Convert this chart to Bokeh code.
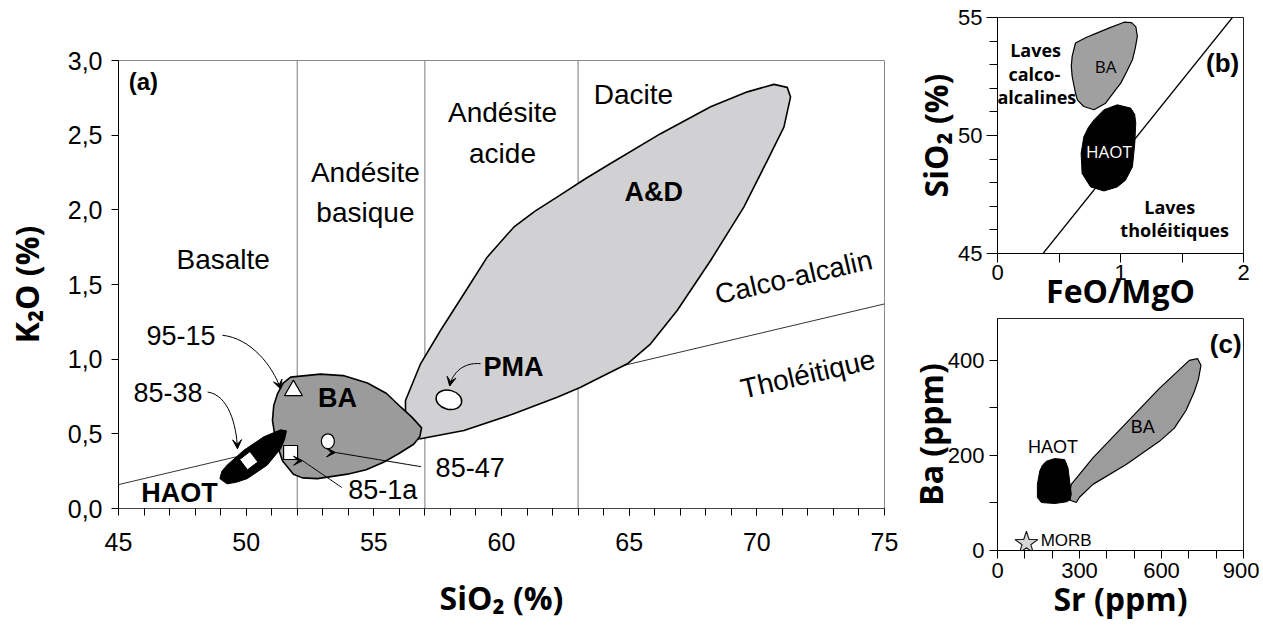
from bokeh.plotting import figure
from bokeh.layouts import row, column
from bokeh.models import Range1d, FixedTicker, CustomJSTickFormatter, Arrow, VeeHead
from bokeh.core.properties import value
from bokeh.embed import file_html
from bokeh.resources import INLINE

# ---------------- Panel (a): K2O vs SiO2 ----------------
field_bounds_sio2 = [52, 57, 63]
ca_th_sio2 = [45, 75]
ca_th_k2o = [0.16, 1.37]

ad_sio2 = [56.24, 56.83, 57.61, 58.53, 59.44, 60.48, 61.3, 62.31, 63.3, 64.27, 66.23, 68.19, 69.63,
           70.67, 71.19, 71.32, 71.06, 70.41, 69.49, 68.19, 66.88, 65.84, 64.93, 63.62, 63.10,
           62.18, 60.48, 58.53, 56.83, 56.24]
ad_k2o = [0.723, 0.969, 1.192, 1.438, 1.683, 1.884, 1.99, 2.10, 2.21, 2.31, 2.51, 2.69, 2.79,
          2.84, 2.82, 2.755, 2.554, 2.33, 2.018, 1.661, 1.326, 1.103, 0.969, 0.857, 0.812,
          0.745, 0.634, 0.522, 0.467, 0.46]

ba_sio2 = [51.74, 52.91, 53.8, 54.75, 55.5, 56.05, 56.5, 56.87, 56.8, 56.56, 56.0, 55.38,
           54.7, 53.97, 52.79, 52.2, 51.85, 51.42, 51.15, 51.03, 51.08, 51.23, 51.45]
ba_k2o = [0.88, 0.90, 0.89, 0.84, 0.77, 0.68, 0.61, 0.54, 0.48, 0.43, 0.37, 0.31,
          0.26, 0.23, 0.20, 0.205, 0.23, 0.32, 0.46, 0.59, 0.69, 0.77, 0.84]

haot_sio2 = [51.58, 51.5, 51.35, 50.82, 50.04, 49.6, 49.25, 48.97, 49.05, 49.25, 49.91, 50.69, 51.35]
haot_k2o = [0.52, 0.46, 0.40, 0.29, 0.20, 0.175, 0.165, 0.20, 0.25, 0.29, 0.39, 0.48, 0.527]

sample_names = ["95-15", "85-38", "85-1a", "85-47"]
sample_sio2 = [51.85, 50.10, 51.74, 53.20]
sample_k2o = [0.79, 0.32, 0.375, 0.45]
pma_sio2 = [57.94]
pma_k2o = [0.728]

a_x_ticks = [45, 50, 55, 60, 65, 70, 75]
a_x_minor = list(range(46, 75))
a_y_ticks = [0.0, 0.5, 1.0, 1.5, 2.0, 2.5, 3.0]

# ---------------- Panel (b): SiO2 vs FeO/MgO ----------------
b_line_feo = [0.37, 1.91]
b_line_sio2 = [45, 55]
ba_b_feo = [0.634, 0.72, 0.811, 0.92, 1.029, 1.09, 1.125, 1.137, 1.12, 1.097, 1.05, 1.002, 0.94,
            0.879, 0.784, 0.702, 0.65, 0.634, 0.607, 0.600, 0.607]
ba_b_sio2 = [53.92, 54.15, 54.35, 54.58, 54.80, 54.78, 54.60, 54.20, 53.70, 53.21, 52.70, 52.22, 51.80,
             51.37, 51.09, 51.23, 51.50, 51.80, 52.50, 52.95, 53.35]
haot_b_feo = [0.865, 0.974, 1.083, 1.115, 1.124, 1.116, 1.097, 1.04, 0.974, 0.865, 0.757, 0.688,
              0.680, 0.702, 0.74, 0.784]
haot_b_sio2 = [51.09, 51.30, 51.16, 50.90, 50.52, 49.67, 48.67, 48.10, 47.82, 47.65, 47.82, 48.39,
               49.24, 49.95, 50.35, 50.66]
b_x_ticks = [0, 1, 2]
b_x_minor = [0.5, 1.5]
b_y_ticks = [45, 50, 55]
b_y_minor = [46, 47, 48, 49, 51, 52, 53, 54]

# ---------------- Panel (c): Ba vs Sr ----------------
ba_c_sr = [270, 349, 470.7, 592.3, 701.7, 732.2, 744.3, 735, 720, 690, 647, 592.3, 470.7, 349, 300,
           288.2, 266.3, 263.9]
ba_c_ba = [139.1, 194.8, 267.8, 340.9, 400.0, 403.5, 389.6, 360, 333.9, 295, 257.4, 229.6, 180.9,
           139.1, 112, 100.9, 105.7, 121.7]
haot_c_sr = [178.8, 209.2, 245.7, 257.8, 263.9, 270.0, 265, 251.8, 209.2, 160.5, 145.9, 145.9, 154.5, 165]
haot_c_ba = [187.8, 193.4, 191.3, 173.9, 146.1, 118.3, 106, 102.3, 98.8, 100.9, 111.3, 139.1, 167.0, 180]
morb_sr = [105.8]
morb_ba = [15.3]
c_x_ticks = [0, 300, 600, 900]
c_x_minor = [100, 200, 400, 500, 700, 800]
c_y_ticks = [0, 200, 400]
c_y_minor = [100, 300]

SANS = "Liberation Sans"
TITLE = "Open Sans"


def make_fig(xr, yr, fw, fh, bl, br, bt, bb):
    p = figure(x_range=Range1d(*xr), y_range=Range1d(*yr), frame_width=fw, frame_height=fh,
               min_border_left=bl, min_border_right=br, min_border_top=bt, min_border_bottom=bb,
               output_backend="svg", toolbar_location=None)
    p.grid.visible = False
    p.outline_line_color = "#222222"
    for ax in (p.xaxis, p.yaxis):
        ax.axis_line_color = "black"
        ax.major_tick_line_color = "black"
        ax.minor_tick_line_color = "black"
        ax.major_tick_in = 0
        ax.minor_tick_in = 0
        ax.major_label_text_font = SANS
        ax.major_label_text_color = "black"
        ax.axis_label_text_font = TITLE
        ax.axis_label_text_font_style = "bold"
        ax.axis_label_text_font_size = "32px"
        ax.axis_label_text_color = "black"
    return p


def txt(p, x, y, s, size, font=SANS, bold=False, align="center", angle=0.0, color="black"):
    p.text(x=[x], y=[y], text=[s], text_font=value(font), text_font_size=value(size),
           text_font_style="bold" if bold else "normal", text_align=align,
           text_baseline="middle", angle=angle, text_color=color)


def curved_arrow(p, x0, y0, cx0, cy0, cx1, cy1, x1, y1):
    p.bezier(x0=[x0], y0=[y0], cx0=[cx0], cy0=[cy0], cx1=[cx1], cy1=[cy1], x1=[x1], y1=[y1],
             line_color="black", line_width=1)
    p.add_layout(Arrow(end=VeeHead(size=9, fill_color="black", line_color="black", line_width=1),
                       x_start=cx1, y_start=cy1, x_end=x1, y_end=y1, line_alpha=0))


# ======== Panel (a) ========
pa = make_fig((45, 75), (0, 3), 766, 448, 118, 21, 60, 112)
pa.outline_line_color = "#8a8a8a"
pa.xaxis.ticker = FixedTicker(ticks=a_x_ticks, minor_ticks=a_x_minor)
pa.yaxis.ticker = FixedTicker(ticks=a_y_ticks, minor_ticks=[])
pa.yaxis.formatter = CustomJSTickFormatter(code="return tick.toFixed(1).replace('.', ',');")
pa.xaxis.major_tick_out = 7
pa.xaxis.minor_tick_out = 7
pa.yaxis.major_tick_out = 7
for ax in (pa.xaxis, pa.yaxis):
    ax.major_label_text_font_size = "25px"
pa.xaxis.major_label_standoff = 17
pa.yaxis.major_label_standoff = 9
pa.xaxis.axis_label = "SiO₂ (%)"
pa.yaxis.axis_label = "K₂O (%)"
pa.xaxis.axis_label_standoff = 22
pa.yaxis.axis_label_standoff = 17
pa.xaxis.axis_line_color = "#444444"

pa.segment(x0=field_bounds_sio2, y0=[0] * 3, x1=field_bounds_sio2, y1=[3] * 3,
           line_color="#7a7a7a", line_width=1)
pa.line(ca_th_sio2, ca_th_k2o, line_color="#333333", line_width=1)
pa.patch(ad_sio2, ad_k2o, fill_color="#d1d1d3", line_color="black", line_width=1.6)
pa.patch(ba_sio2, ba_k2o, fill_color="#9b9b9b", line_color="black", line_width=1.6)
pa.patch(haot_sio2, haot_k2o, fill_color="black", line_color="black", line_width=1)

pa.scatter([sample_sio2[0]], [sample_k2o[0]], marker="triangle", size=18, fill_color="white",
           line_color="black", line_width=1.2)
pa.scatter([sample_sio2[1]], [sample_k2o[1]], marker="square", size=13, angle=0.65,
           fill_color="white", line_color="black", line_width=1)
pa.scatter([sample_sio2[2]], [sample_k2o[2]], marker="square", size=14, fill_color="white",
           line_color="black", line_width=1.2)
pa.ellipse(x=[sample_sio2[3]], y=[sample_k2o[3]], width=13, height=15, width_units="screen",
           height_units="screen", fill_color="white", line_color="black", line_width=1.2)
pa.ellipse(x=pma_sio2, y=pma_k2o, width=26, height=19, width_units="screen", height_units="screen",
           angle=-0.25, fill_color="white", line_color="black", line_width=1.4)

curved_arrow(pa, 49.07, 1.16, 50.17, 1.14, 51.03, 0.96, 51.35, 0.80)
curved_arrow(pa, 48.49, 0.78, 49.31, 0.76, 49.62, 0.56, 49.66, 0.40)
curved_arrow(pa, 53.75, 0.14, 53.75, 0.14, 52.21, 0.32, 52.21, 0.32)
curved_arrow(pa, 56.85, 0.28, 56.85, 0.28, 53.5, 0.375, 53.5, 0.375)
curved_arrow(pa, 59.18, 0.97, 58.51, 0.98, 58.08, 0.91, 57.97, 0.82)

txt(pa, 45.4, 2.86, "(a)", "24px", bold=True, align="left")
txt(pa, 49.1, 1.67, "Basalte", "28px")
txt(pa, 54.67, 2.25, "Andésite", "28px")
txt(pa, 54.67, 1.98, "basique", "28px")
txt(pa, 60.04, 2.65, "Andésite", "28px")
txt(pa, 60.04, 2.38, "acide", "28px")
txt(pa, 65.17, 2.77, "Dacite", "28px")
txt(pa, 65.96, 2.12, "A&D", "27px", bold=True)
txt(pa, 53.58, 0.74, "BA", "27px", bold=True)
txt(pa, 47.39, 0.105, "HAOT", "27px", bold=True)
txt(pa, 60.47, 0.95, "PMA", "27px", bold=True)
txt(pa, 48.8, 1.16, sample_names[0], "27px", align="right")
txt(pa, 48.29, 0.78, sample_names[1], "27px", align="right")
txt(pa, 54.0, 0.125, sample_names[2], "27px", align="left")
txt(pa, 57.42, 0.275, sample_names[3], "27px", align="left")
txt(pa, 71.44, 1.55, "Calco-alcalin", "28px", angle=0.225)
txt(pa, 72.0, 0.90, "Tholéitique", "28px", angle=0.225)

# ======== Panel (b) ========
pb = make_fig((0, 2), (45, 55), 246, 236, 88, 16, 17, 65)
pb.xaxis.ticker = FixedTicker(ticks=b_x_ticks, minor_ticks=b_x_minor)
pb.yaxis.ticker = FixedTicker(ticks=b_y_ticks, minor_ticks=b_y_minor)
pb.xaxis.major_tick_out = 9
pb.xaxis.minor_tick_out = 9
pb.yaxis.major_tick_out = 11
pb.yaxis.minor_tick_out = 8
for ax in (pb.xaxis, pb.yaxis):
    ax.major_label_text_font_size = "22px"
pb.xaxis.major_label_standoff = 2
pb.yaxis.major_label_standoff = 4
pb.xaxis.axis_label = "FeO/MgO"
pb.yaxis.axis_label = "SiO₂ (%)"
pb.xaxis.axis_label_standoff = -14
pb.yaxis.axis_label_standoff = -2

pb.line(b_line_feo, b_line_sio2, line_color="black", line_width=1.2)
pb.patch(ba_b_feo, ba_b_sio2, fill_color="#a0a0a0", line_color="black", line_width=1.2)
pb.patch(haot_b_feo, haot_b_sio2, fill_color="black", line_color="black", line_width=1)
txt(pb, 0.88, 52.93, "BA", "17px", font=TITLE)
txt(pb, 0.905, 49.31, "HAOT", "17px", font=TITLE, color="white")
txt(pb, 0.31, 53.64, "Laves", "18px", font=TITLE, bold=True)
txt(pb, 0.30, 52.62, "calco-", "18px", font=TITLE, bold=True)
txt(pb, 0.32, 51.64, "alcalines", "18px", font=TITLE, bold=True)
txt(pb, 1.40, 46.96, "Laves", "18px", font=TITLE, bold=True)
txt(pb, 1.44, 45.98, "tholéitiques", "18px", font=TITLE, bold=True)
txt(pb, 1.83, 53.09, "(b)", "26px", bold=True)

# ======== Panel (c) ========
pc = make_fig((0, 900), (0, 488), 246, 232, 88, 16, 0, 70)
pc.xaxis.ticker = FixedTicker(ticks=c_x_ticks, minor_ticks=c_x_minor)
pc.yaxis.ticker = FixedTicker(ticks=c_y_ticks, minor_ticks=c_y_minor)
for ax in (pc.xaxis, pc.yaxis):
    ax.major_tick_out = 8
    ax.minor_tick_out = 8
    ax.major_label_text_font_size = "22px"
pc.xaxis.major_label_standoff = 4
pc.yaxis.major_label_standoff = 5
pc.xaxis.axis_label = "Sr (ppm)"
pc.yaxis.axis_label = "Ba (ppm)"
pc.xaxis.axis_label_standoff = -4
pc.yaxis.axis_label_standoff = -7

pc.patch(ba_c_sr, ba_c_ba, fill_color="#9c9c9c", line_color="black", line_width=1.2)
pc.patch(haot_c_sr, haot_c_ba, fill_color="black", line_color="black", line_width=1)
pc.scatter(morb_sr, morb_ba, marker="star", size=24, fill_color="#d6d6d6", line_color="#222222",
           line_width=1.2)
txt(pc, 203, 217, "HAOT", "18px")
txt(pc, 531, 259, "BA", "18px")
txt(pc, 158, 22, "MORB", "17px", align="left")
txt(pc, 835, 435, "(c)", "26px", bold=True)

layout = row(pa, column(pb, pc, spacing=0), spacing=0)
open("out.html", "w").write(file_html(layout, INLINE))
